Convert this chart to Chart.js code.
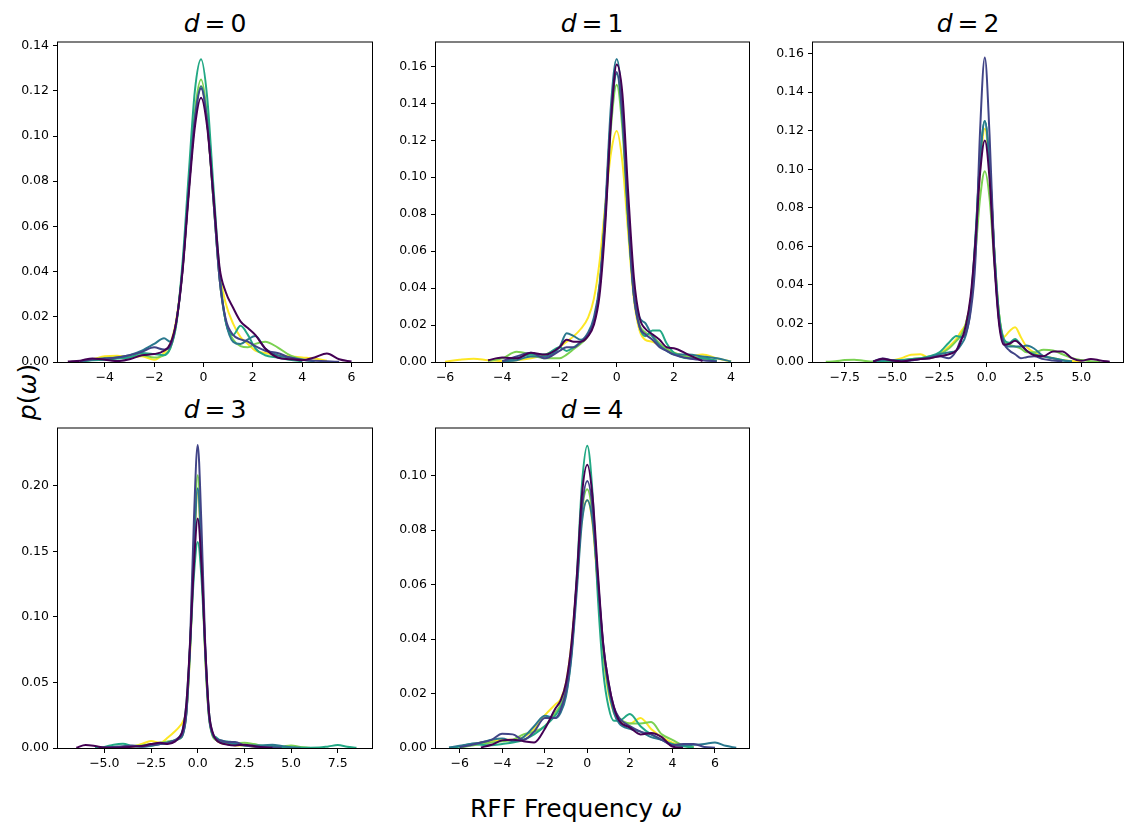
<!DOCTYPE html>
<html>
<head>
<meta charset="utf-8">
<title>RFF frequency densities</title>
<script src="https://cdn.jsdelivr.net/npm/chart.js@4.4.0/dist/chart.umd.min.js"></script>
<style>
  body { margin: 0; background: #fff; width: 1124px; height: 829px; position: relative; overflow: hidden; font-family: "DejaVu Sans", sans-serif; }
  canvas { position: absolute; }
  .big { position: absolute; font-size: 25px; line-height: 25px; white-space: nowrap; color: #000; }
  .title { transform: translateX(-50%); }
</style>
</head>
<body>
<div class="big title" style="left:215px;top:11px"><i>d</i>&thinsp;=&thinsp;0</div>
<div class="big title" style="left:592px;top:11px"><i>d</i>&thinsp;=&thinsp;1</div>
<div class="big title" style="left:968px;top:11px"><i>d</i>&thinsp;=&thinsp;2</div>
<div class="big title" style="left:215px;top:397px"><i>d</i>&thinsp;=&thinsp;3</div>
<div class="big title" style="left:592px;top:397px"><i>d</i>&thinsp;=&thinsp;4</div>
<div class="big" style="left:27px;top:392px;transform:translate(-50%,-50%) rotate(-90deg)"><i>p</i>(<i>ω</i>)</div>
<div class="big title" style="left:576px;top:796px">RFF Frequency <i>ω</i></div>

<script>
// viridis, one colour per run (light to dark)
const seriesColors = ['#fde725', '#7ad151', '#22a884', '#2a788e', '#414487', '#440154'];

// ---- d = 0 ----
const gridD0 = [-5.5,-5,-4.5,-4,-3.5,-3,-2.5,-2,-1.6,-1.35,-1.1,-0.85,-0.6,-0.35,-0.1,0.15,0.4,0.65,0.9,1.2,1.5,1.8,2.1,2.5,3,3.5,4,4.5,5,5.5,6];
const d0Yellow = [null,0.0003,0.0012,0.0025,0.0028,0.0022,0.0025,0.001,0.004,0.008,0.019,0.041,0.076,0.108,0.122,0.106,0.072,0.04,0.026,0.017,0.011,0.008,0.005,0.004,0.003,0.0025,0.002,0.0015,0.0006,null,null];
const d0LightGreen = [null,0.0002,0.001,0.0018,0.002,0.002,0.003,0.002,0.003,0.006,0.017,0.042,0.078,0.111,0.125,0.109,0.073,0.037,0.018,0.01,0.007,0.0065,0.008,0.009,0.0065,0.003,0.0012,0.0002,null,null,null];
const d0Green = [null,0.0002,0.0008,0.001,0.0015,0.002,0.004,0.0035,0.003,0.006,0.017,0.044,0.083,0.12,0.134,0.117,0.078,0.04,0.018,0.012,0.016,0.012,0.006,0.003,0.002,0.001,0.0003,null,null,null,null];
const d0Teal = [null,0.0003,0.001,0.0015,0.002,0.003,0.005,0.008,0.0105,0.009,0.018,0.041,0.076,0.108,0.122,0.106,0.072,0.037,0.018,0.009,0.008,0.01,0.0115,0.006,0.003,0.002,0.001,0.0003,null,null,null];
const d0Indigo = [null,0.0004,0.0012,0.0015,0.002,0.003,0.0045,0.0065,0.0055,0.007,0.018,0.041,0.076,0.107,0.121,0.106,0.072,0.037,0.019,0.012,0.01,0.009,0.007,0.005,0.004,0.002,0.001,0.0006,0.0003,0.0001,null];
const d0Purple = [0.0002,0.0006,0.0016,0.001,0.0004,0.0012,0.003,0.0035,0.005,0.008,0.018,0.04,0.074,0.104,0.117,0.104,0.074,0.042,0.031,0.024,0.018,0.015,0.012,0.006,0.002,0.0012,0.0008,0.002,0.0038,0.0012,0.0002];
const xTicksD0 = [-4, -2, 0, 2, 4, 6];
const yTicksD0 = [0, 0.02, 0.04, 0.06, 0.08, 0.10, 0.12, 0.14];

// ---- d = 1 ----
const gridD1 = [-6.5,-6,-5.5,-5,-4.5,-4,-3.5,-3,-2.5,-2,-1.75,-1.5,-1.25,-1,-0.8,-0.6,-0.4,-0.2,0,0.2,0.4,0.6,0.8,1,1.25,1.5,1.75,2,2.5,3,3.5,4];
const d1Yellow = [null,0.0002,0.0012,0.0018,0.001,0.0006,0.001,0.002,0.004,0.008,0.011,0.014,0.018,0.024,0.034,0.054,0.085,0.113,0.125,0.108,0.07,0.034,0.017,0.012,0.011,0.009,0.007,0.005,0.003,0.004,0.002,0.0003];
const d1LightGreen = [null,null,null,null,0.0006,0.002,0.0055,0.004,0.002,0.002,0.004,0.007,0.01,0.014,0.022,0.04,0.078,0.127,0.150,0.126,0.075,0.036,0.02,0.016,0.014,0.01,0.007,0.005,0.003,0.002,0.0005,null];
const d1Green = [null,null,null,null,null,0.0003,0.002,0.004,0.004,0.008,0.006,0.008,0.011,0.015,0.022,0.04,0.08,0.132,0.156,0.131,0.078,0.036,0.019,0.014,0.017,0.017,0.01,0.005,0.002,0.002,0.0008,null];
const d1Teal = [null,null,null,null,null,0.0003,0.001,0.003,0.003,0.008,0.0155,0.014,0.012,0.016,0.024,0.042,0.083,0.139,0.164,0.138,0.08,0.038,0.024,0.021,0.014,0.009,0.006,0.004,0.004,0.003,0.002,0.0003];
const d1Indigo = [null,null,null,null,null,0.0005,0.003,0.005,0.002,0.006,0.008,0.008,0.011,0.015,0.022,0.04,0.08,0.133,0.157,0.133,0.078,0.036,0.019,0.015,0.012,0.008,0.006,0.004,0.002,0.001,0.0003,null];
const d1Purple = [null,null,null,null,0.001,0.0024,0.002,0.005,0.004,0.008,0.012,0.011,0.011,0.014,0.02,0.036,0.074,0.13,0.161,0.145,0.092,0.046,0.024,0.018,0.015,0.012,0.008,0.0075,0.004,0.0005,null,null];
const xTicksD1 = [-6, -4, -2, 0, 2, 4];
const yTicksD1 = [0, 0.02, 0.04, 0.06, 0.08, 0.10, 0.12, 0.14, 0.16];

// ---- d = 2 ----
const gridD2 = [-8.5,-8,-7.5,-7,-6.5,-6,-5.5,-5,-4.5,-4,-3.5,-3,-2.5,-2,-1.6,-1.35,-1.1,-0.85,-0.6,-0.35,-0.1,0.15,0.4,0.65,0.9,1.2,1.5,1.8,2.1,2.5,3,3.5,4,4.5,5,5.5,6,6.5];
const d2Yellow = [null,null,null,null,null,null,0.0003,0.0008,0.002,0.0038,0.004,0.002,0.004,0.008,0.012,0.016,0.02,0.032,0.06,0.1,0.121,0.1,0.058,0.025,0.013,0.016,0.018,0.013,0.008,0.005,0.003,0.002,0.001,0.0005,0.0002,null,null,null];
const d2LightGreen = [0.0001,0.0004,0.001,0.0012,0.0006,0.0002,0.0003,0.0005,0.001,0.0015,0.002,0.003,0.004,0.007,0.011,0.014,0.02,0.032,0.056,0.085,0.099,0.085,0.052,0.025,0.012,0.009,0.008,0.007,0.005,0.005,0.0063,0.006,0.004,0.002,0.001,0.0004,0.0001,null];
const d2Green = [null,null,null,null,null,0.0002,0.0005,0.0008,0.001,0.0015,0.002,0.003,0.005,0.01,0.0135,0.013,0.016,0.03,0.064,0.105,0.125,0.102,0.058,0.025,0.012,0.01,0.012,0.009,0.006,0.004,0.003,0.002,0.001,0.0003,null,null,null,null];
const d2Teal = [null,null,null,null,null,0.0003,0.001,0.0008,0.0006,0.001,0.0015,0.0025,0.004,0.005,0.006,0.009,0.014,0.028,0.063,0.105,0.125,0.103,0.058,0.022,0.01,0.008,0.008,0.008,0.0085,0.007,0.003,0.002,0.0008,0.0002,null,null,null,null];
const d2Indigo = [null,null,null,null,null,0.0003,0.0018,0.0008,0.0003,0.0008,0.0015,0.002,0.003,0.002,0.006,0.012,0.015,0.026,0.052,0.12,0.158,0.118,0.056,0.022,0.01,0.006,0.004,0.002,0.0025,0.003,0.0015,0.0008,0.0003,null,null,null,null,null];
const d2Purple = [null,null,null,null,null,0.0003,0.0017,0.0008,0.0003,0.001,0.0015,0.002,0.003,0.004,0.006,0.011,0.019,0.034,0.062,0.098,0.115,0.095,0.052,0.02,0.009,0.0095,0.011,0.009,0.006,0.0035,0.003,0.0055,0.0055,0.002,0.0006,0.0016,0.0008,0.0001];
const xTicksD2 = [-7.5, -5, -2.5, 0, 2.5, 5];
const yTicksD2 = [0, 0.02, 0.04, 0.06, 0.08, 0.10, 0.12, 0.14, 0.16];

// ---- d = 3 ----
const gridD3 = [-7,-6.5,-6,-5.5,-5,-4.5,-4,-3.5,-3,-2.5,-2,-1.6,-1.2,-1,-0.8,-0.6,-0.4,-0.2,0,0.2,0.4,0.6,0.8,1,1.2,1.6,2,2.5,3,3.5,4,4.5,5,5.5,6,6.5,7,7.5,8,8.5];
const d3Yellow = [null,null,null,null,null,0.0002,0.0004,0.001,0.003,0.0053,0.004,0.008,0.013,0.016,0.02,0.03,0.075,0.148,0.195,0.145,0.07,0.025,0.01,0.006,0.004,0.003,0.002,0.002,0.001,0.0004,null,null,null,null,null,null,null,null,null,null];
const d3LightGreen = [null,null,null,null,0.0002,0.0005,0.001,0.0015,0.002,0.003,0.004,0.005,0.006,0.007,0.01,0.028,0.08,0.158,0.208,0.155,0.075,0.025,0.009,0.006,0.005,0.004,0.0035,0.004,0.003,0.0015,0.0008,0.001,0.002,0.0008,0.0002,null,null,null,null,null];
const d3Green = [null,null,null,0.0002,0.0008,0.0025,0.0032,0.0015,0.001,0.0015,0.003,0.004,0.006,0.008,0.014,0.035,0.08,0.132,0.157,0.13,0.075,0.028,0.011,0.008,0.006,0.005,0.004,0.002,0.0015,0.002,0.0015,0.0008,0.0003,0.0002,0.0002,0.0003,0.0012,0.0022,0.001,0.0002];
const d3Teal = [null,null,null,null,0.0002,0.0008,0.0012,0.0015,0.0015,0.0025,0.003,0.004,0.006,0.007,0.01,0.027,0.078,0.15,0.198,0.148,0.072,0.024,0.01,0.007,0.0053,0.004,0.003,0.002,0.002,0.002,0.0025,0.0015,0.0005,0.0001,null,null,null,null,null,null];
const d3Indigo = [null,null,null,null,0.0003,0.0008,0.0012,0.002,0.001,0.002,0.003,0.004,0.006,0.008,0.011,0.028,0.085,0.175,0.231,0.17,0.08,0.026,0.011,0.007,0.006,0.0045,0.0045,0.002,0.001,0.0008,0.0005,0.0002,null,null,null,null,null,null,null,null];
const d3Purple = [null,0.0002,0.0022,0.0015,0.0003,0.0002,0.0005,0.001,0.0015,0.003,0.004,0.003,0.005,0.008,0.014,0.035,0.082,0.14,0.175,0.14,0.078,0.028,0.012,0.006,0.004,0.0025,0.002,0.0025,0.0015,0.0005,0.0001,null,null,null,null,null,null,null,null,null];
const xTicksD3 = [-5, -2.5, 0, 2.5, 5, 7.5];
const yTicksD3 = [0, 0.05, 0.10, 0.15, 0.20];

// ---- d = 4 ----
const gridD4 = [-6.5,-6,-5.5,-5,-4.5,-4,-3.5,-3,-2.5,-2,-1.5,-1.25,-1,-0.75,-0.5,-0.25,0,0.25,0.5,0.75,1,1.25,1.5,2,2.5,3,3.5,4,4.5,5,5.5,6,6.5,7];
const d4Yellow = [null,0.0003,0.0012,0.002,0.0025,0.003,0.003,0.004,0.007,0.012,0.016,0.018,0.024,0.038,0.06,0.084,0.091,0.082,0.058,0.034,0.02,0.013,0.01,0.009,0.011,0.007,0.004,0.002,0.0008,0.0002,null,null,null,null];
const d4LightGreen = [null,0.0002,0.0008,0.0015,0.002,0.0025,0.003,0.005,0.006,0.008,0.013,0.016,0.022,0.036,0.06,0.087,0.095,0.085,0.06,0.036,0.021,0.014,0.011,0.009,0.009,0.0095,0.005,0.003,0.001,0.0003,null,null,null,null];
const d4Green = [0.0001,0.0005,0.0015,0.0012,0.001,0.0015,0.002,0.003,0.005,0.008,0.012,0.015,0.02,0.034,0.062,0.097,0.111,0.093,0.055,0.028,0.015,0.01,0.01,0.0125,0.008,0.005,0.003,0.0015,0.0006,0.0002,null,null,null,null];
const d4Teal = [0.0002,0.0008,0.0015,0.002,0.003,0.0035,0.0025,0.004,0.008,0.0118,0.011,0.013,0.019,0.033,0.057,0.083,0.091,0.083,0.06,0.037,0.022,0.013,0.009,0.007,0.006,0.004,0.003,0.0012,0.001,0.0012,0.0015,0.002,0.0008,0.0001];
const d4Indigo = [null,0.0003,0.001,0.002,0.003,0.0052,0.005,0.003,0.006,0.011,0.011,0.014,0.021,0.035,0.06,0.088,0.098,0.088,0.062,0.038,0.024,0.015,0.011,0.008,0.006,0.005,0.003,0.001,0.0015,0.0015,0.0004,0.0001,null,null];
const d4Purple = [null,null,null,0.0002,0.0012,0.0028,0.003,0.0025,0.002,0.007,0.0145,0.0175,0.024,0.038,0.062,0.093,0.104,0.092,0.064,0.038,0.024,0.015,0.01,0.0075,0.005,0.0055,0.004,0.0005,0.0001,null,null,null,null,null];
const xTicksD4 = [-6, -4, -2, 0, 2, 4, 6];
const yTicksD4 = [0, 0.02, 0.04, 0.06, 0.08, 0.10];

// layout: plot box in page pixels [left, top, right, bottom] and axis limits
const panels = [
  { grid: gridD0, series: [d0Yellow, d0LightGreen, d0Green, d0Teal, d0Indigo, d0Purple], box: [58, 41, 372, 362],
    xMin: -5.898, xMax: 6.83, yMax: 0.1414, xTicks: xTicksD0, yTicks: yTicksD0, xDec: 0 },
  { grid: gridD1, series: [d1Yellow, d1LightGreen, d1Green, d1Teal, d1Indigo, d1Purple], box: [436, 41, 749, 362],
    xMin: -6.318, xMax: 4.626, yMax: 0.1729, xTicks: xTicksD1, yTicks: yTicksD1, xDec: 0 },
  { grid: gridD2, series: [d2Yellow, d2LightGreen, d2Green, d2Teal, d2Indigo, d2Purple], box: [813, 41, 1123, 362],
    xMin: -9.176, xMax: 7.2, yMax: 0.1658, xTicks: xTicksD2, yTicks: yTicksD2, xDec: 1 },
  { grid: gridD3, series: [d3Yellow, d3LightGreen, d3Green, d3Teal, d3Indigo, d3Purple], box: [58, 427, 372, 748],
    xMin: -7.479, xMax: 9.331, yMax: 0.2436, xTicks: xTicksD3, yTicks: yTicksD3, xDec: 1 },
  { grid: gridD4, series: [d4Yellow, d4LightGreen, d4Green, d4Teal, d4Indigo, d4Purple], box: [436, 427, 749, 748],
    xMin: -7.11, xMax: 7.599, yMax: 0.1173, xTicks: xTicksD4, yTicks: yTicksD4, xDec: 0 }
];

Chart.defaults.font.family = "'DejaVu Sans', sans-serif";
Chart.defaults.color = '#000';

const Y_AXIS_W = 56, X_AXIS_H = 32, PAD = 10;
const fmt = (v, dec) => v.toFixed(dec).replace('-', '\u2212');

// matplotlib-style box around the plot area
const framePlugin = {
  id: 'frame',
  afterDatasetsDraw(chart) {
    const { ctx, chartArea: a } = chart;
    ctx.save();
    ctx.strokeStyle = '#000';
    ctx.lineWidth = 1;
    ctx.strokeRect(a.left - 0.5, a.top - 0.5, a.right - a.left + 1, a.bottom - a.top + 1);
    ctx.restore();
  }
};

const tickGrid = { display: true, drawOnChartArea: false, drawTicks: true, tickLength: 5, tickWidth: 1, tickColor: '#000' };

panels.forEach(p => {
  const [l, t, r, b] = p.box;
  const canvas = document.createElement('canvas');
  canvas.width = (r - l) + Y_AXIS_W + PAD;
  canvas.height = (b - t) + PAD + X_AXIS_H;
  canvas.style.left = (l - Y_AXIS_W) + 'px';
  canvas.style.top = (t - PAD) + 'px';
  document.body.appendChild(canvas);

  const datasets = p.series.map((ys, i) => ({
    data: p.grid.map((x, j) => ({ x, y: ys[j] })).filter(pt => pt.y !== null),
    borderColor: seriesColors[i],
    borderWidth: 2,
    pointRadius: 0,
    fill: false,
    cubicInterpolationMode: 'monotone',
    order: seriesColors.length - 1 - i   // darkest run drawn on top
  }));

  new Chart(canvas, {
    type: 'line',
    data: { datasets },
    options: {
      responsive: false,
      animation: false,
      devicePixelRatio: 1,
      events: [],
      layout: { padding: { left: 0, top: PAD, right: PAD, bottom: 0 } },
      plugins: { legend: { display: false }, tooltip: { enabled: false } },
      scales: {
        x: {
          type: 'linear', min: p.xMin, max: p.xMax,
          grid: tickGrid, border: { display: false },
          afterBuildTicks: s => { s.ticks = p.xTicks.map(v => ({ value: v })); },
          afterFit: s => { s.height = X_AXIS_H; },
          ticks: { autoSkip: false, maxRotation: 0, padding: 3, font: { size: 12.5 },
                   callback: v => fmt(v, p.xDec) }
        },
        y: {
          type: 'linear', min: 0, max: p.yMax,
          grid: tickGrid, border: { display: false },
          afterBuildTicks: s => { s.ticks = p.yTicks.map(v => ({ value: v })); },
          afterFit: s => { s.width = Y_AXIS_W; },
          ticks: { autoSkip: false, padding: 4, font: { size: 12.5 },
                   callback: v => fmt(v, 2) }
        }
      }
    },
    plugins: [framePlugin]
  });
});
</script>
</body>
</html>
